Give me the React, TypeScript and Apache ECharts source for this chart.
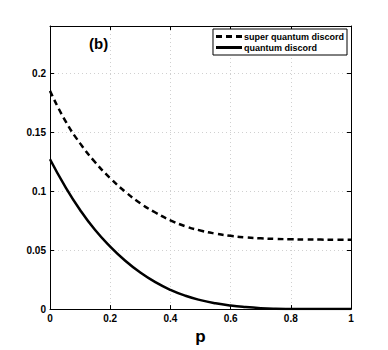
import React, { useEffect, useRef } from "react";
import * as echarts from "echarts";

const pValues = [0, 0.05, 0.1, 0.15, 0.2, 0.25, 0.3, 0.35, 0.4, 0.45, 0.5, 0.55, 0.6, 0.65, 0.7, 0.75, 0.8, 0.85, 0.9, 0.95, 1];
const superQuantumDiscord = [0.185, 0.160, 0.1405, 0.1245, 0.111, 0.0995, 0.0897, 0.0819, 0.0753, 0.0702, 0.0666, 0.0640, 0.0621, 0.0608, 0.0600, 0.0595, 0.0592, 0.0590, 0.0589, 0.0588, 0.0588];
const quantumDiscord = [0.127, 0.104, 0.084, 0.067, 0.053, 0.041, 0.031, 0.0228, 0.0163, 0.0113, 0.0076, 0.0049, 0.003, 0.0017, 0.0008, 0.0003, 0.0001, 0, 0, 0, 0];
const xTicks = [0, 0.2, 0.4, 0.6, 0.8, 1];
const yTicks = [0, 0.05, 0.1, 0.15, 0.2];

const FONT = "'Liberation Sans', Arial, sans-serif";

export default function App() {
  const ref = useRef<HTMLDivElement>(null);
  useEffect(() => {
    if (!ref.current) return;
    const chart = echarts.init(ref.current, null, { renderer: "svg" });
    const fmtX = (v: number) => (xTicks.includes(v) ? String(v) : "");
    const fmtY = (v: number) => (yTicks.some((t) => Math.abs(t - v) < 1e-9) ? String(Number(v.toFixed(2))) : "");
    const gridLine = { show: true, lineStyle: { color: "#d0d0d0", type: [1, 3] as any, width: 1 } };
    chart.setOption({
      animation: false,
      backgroundColor: "#ffffff",
      grid: { left: 50, top: 26, right: 37, bottom: 39, containLabel: false },
      xAxis: [
        {
          type: "value",
          min: 0,
          max: 1,
          interval: 0.2,
          name: "p",
          nameLocation: "middle",
          nameGap: 18,
          nameTextStyle: { fontFamily: FONT, fontWeight: "bold", fontSize: 17, color: "#000" },
          axisLine: { show: true, onZero: false, lineStyle: { color: "#000", width: 1 } },
          axisTick: { show: true, inside: true, length: 4, lineStyle: { color: "#000" } },
          axisLabel: { fontFamily: FONT, fontWeight: "bold", fontSize: 10, color: "#000", margin: 4, formatter: fmtX },
          splitLine: gridLine,
        },
        {
          type: "value",
          position: "top",
          min: 0,
          max: 1,
          interval: 0.2,
          axisLine: { show: true, onZero: false, lineStyle: { color: "#000", width: 1 } },
          axisTick: { show: true, inside: true, length: 4, lineStyle: { color: "#000" } },
          axisLabel: { show: false },
          splitLine: { show: false },
        },
      ],
      yAxis: [
        {
          type: "value",
          min: 0,
          max: 0.24,
          interval: 0.05,
          axisLine: { show: true, onZero: false, lineStyle: { color: "#000", width: 1 } },
          axisTick: { show: true, inside: true, length: 4, lineStyle: { color: "#000" } },
          axisLabel: { fontFamily: FONT, fontWeight: "bold", fontSize: 10, color: "#000", margin: 4, formatter: fmtY, showMaxLabel: false },
          splitLine: gridLine,
        },
        {
          type: "value",
          position: "right",
          min: 0,
          max: 0.24,
          interval: 0.05,
          axisLine: { show: true, onZero: false, lineStyle: { color: "#000", width: 1 } },
          axisTick: { show: true, inside: true, length: 4, lineStyle: { color: "#000" } },
          axisLabel: { show: false },
          splitLine: { show: false },
        },
      ],
      legend: {
        orient: "vertical",
        right: 41,
        top: 29,
        padding: [3, 3, 3, 3],
        itemGap: 2,
        itemWidth: 26,
        itemHeight: 3,
        borderColor: "#000",
        borderWidth: 1,
        backgroundColor: "#fff",
        textStyle: { fontFamily: FONT, fontWeight: "bold", fontSize: 9, color: "#000", padding: [0, 0, 0, -3] },
        data: [
          { name: "super quantum discord", icon: "path://M0,0h6v3h-6z M10,0h6v3h-6z M20,0h6v3h-6z" },
          { name: "quantum discord", icon: "path://M0,0h26v3h-26z" },
        ],
      },
      graphic: [
        {
          type: "text",
          left: 89,
          top: 36,
          style: { text: "(b)", font: `bold 15px ${FONT}`, fill: "#000" },
        },
      ],
      series: [
        {
          name: "super quantum discord",
          type: "line",
          data: pValues.map((p, i) => [p, superQuantumDiscord[i]]),
          smooth: true,
          symbol: "none",
          showSymbol: false,
          lineStyle: { color: "#000", width: 2.5, type: [6, 4] as any },
          itemStyle: { color: "#000" },
        },
        {
          name: "quantum discord",
          type: "line",
          data: pValues.map((p, i) => [p, quantumDiscord[i]]),
          smooth: true,
          symbol: "none",
          showSymbol: false,
          lineStyle: { color: "#000", width: 2.5 },
          itemStyle: { color: "#000" },
        },
      ],
    });
    return () => chart.dispose();
  }, []);
  return <div ref={ref} style={{ width: 388, height: 350, position: "absolute", left: 0, top: 0 }} />;
}
